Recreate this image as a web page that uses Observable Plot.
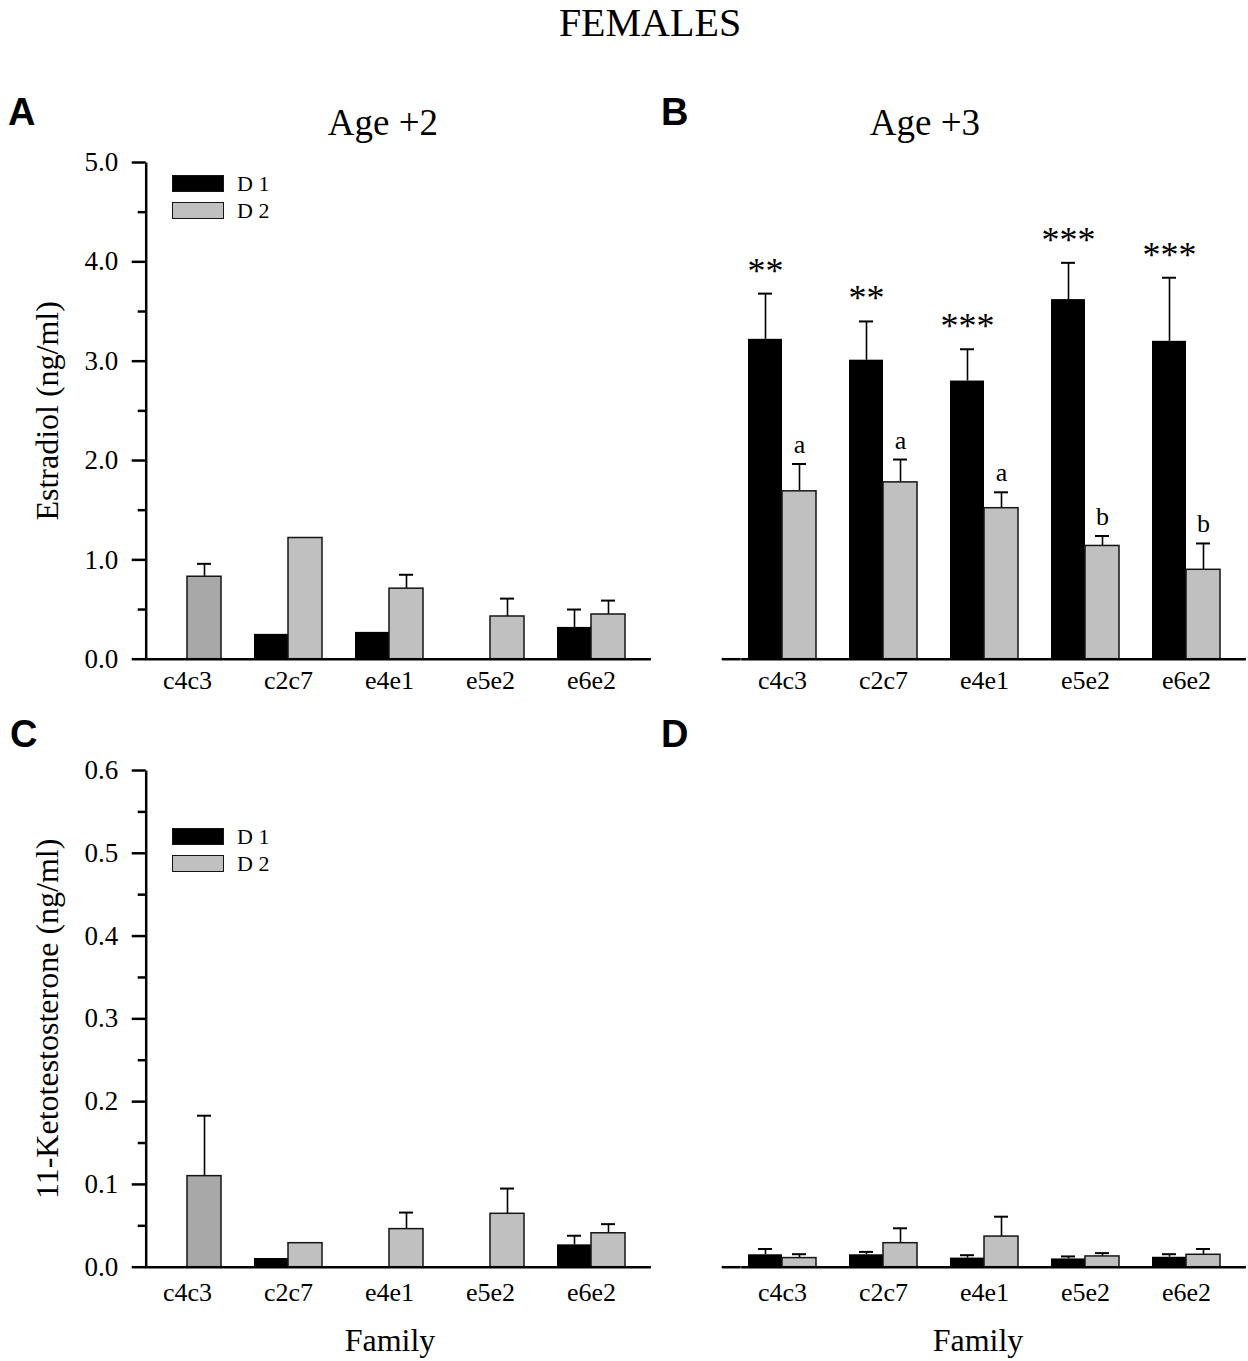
<!DOCTYPE html>
<html>
<head>
<meta charset="utf-8">
<script src="https://cdn.jsdelivr.net/npm/d3@7"></script>
<script src="https://cdn.jsdelivr.net/npm/@observablehq/plot@0.6"></script>
<style>
  html, body { margin: 0; padding: 0; background: white; }
  #page { position: relative; width: 1248px; height: 1361px; overflow: hidden; background: white; font-family: "Liberation Serif", "Times New Roman", serif; color: black; }
  .abs { position: absolute; white-space: nowrap; }
  .panel { position: absolute; width: 652px; height: 570px; }
  .panel svg { background: none !important; overflow: visible; }
  .sw { position: absolute; box-sizing: border-box; }
</style>
</head>
<body>
<div id="page"></div>
<script>
// ---------------- DATA ----------------
const families = ["c4c3", "c2c7", "e4e1", "e5e2", "e6e2"];
const seriesNames = ["D 1", "D 2"];

// Panel A: Age +2, Estradiol (ng/ml)
const aD1 = [null, 0.25, 0.27, null, 0.32];
const aD1Err = [null, null, null, null, 0.50];
const aD2 = [0.83, 1.22, 0.71, 0.43, 0.45];
const aD2Err = [0.96, null, 0.85, 0.61, 0.59];

// Panel B: Age +3, Estradiol (ng/ml)
const bD1 = [3.22, 3.01, 2.80, 3.62, 3.20];
const bD1Err = [3.68, 3.40, 3.12, 3.99, 3.84];
const bD2 = [1.69, 1.78, 1.52, 1.14, 0.90];
const bD2Err = [1.965, 2.01, 1.68, 1.24, 1.165];
const bD1Sig = ["**", "**", "***", "***", "***"];
const bD2Sig = ["a", "a", "a", "b", "b"];

// Panel C: Age +2, 11-Ketotestosterone (ng/ml)
const cD1 = [null, 0.0105, null, null, 0.027];
const cD1Err = [null, null, null, null, 0.038];
const cD2 = [0.110, 0.029, 0.046, 0.0645, 0.041];
const cD2Err = [0.183, null, 0.066, 0.095, 0.052];

// Panel D: Age +3, 11-Ketotestosterone (ng/ml)
const dD1 = [0.015, 0.015, 0.011, 0.010, 0.012];
const dD1Err = [0.022, 0.0185, 0.0145, 0.013, 0.0157];
const dD2 = [0.011, 0.029, 0.037, 0.013, 0.015];
const dD2Err = [0.0157, 0.047, 0.061, 0.017, 0.022];

// Axis ticks
const estradiolTicks = [0, 1, 2, 3, 4, 5];
const estradiolMinor = [0.5, 1.5, 2.5, 3.5, 4.5];
const ketoTicks = [0, 0.1, 0.2, 0.3, 0.4, 0.5, 0.6];
const ketoMinor = [0.05, 0.15, 0.25, 0.35, 0.45, 0.55];

const mainTitle = "FEMALES";
const panelLetters = ["A", "B", "C", "D"];
const ageTitles = ["Age +2", "Age +3"];
const yLabels = ["Estradiol (ng/ml)", "11-Ketotestosterone (ng/ml)"];
const xLabel = "Family";

// ---------------- LAYOUT ----------------
const SERIF = "Liberation Serif";
const GRAY = "#c0c0c0";
const DARKGRAY = "#a8a8a8";
const page = document.getElementById("page");

function rows(vals, errs, sigs) {
  return families.map((f, i) => ({family: f, value: vals[i], err: errs[i], sig: sigs ? sigs[i] : null}))
    .filter(d => d.value != null);
}

function panel(o) {
  const W = 652, H = 570, mL = 145.7, mR = 1.6, mT = 22, mB = 51.3;
  const fw = W - mL - mR, fh = H - mT - mB;
  const STEP = 101.7, BAR = 34, CAP = 14;
  const first = mL + 5.3;
  const p = 1 - 2 * BAR / STEP;
  const r0 = first - STEP * p;
  const r1 = r0 + STEP * (families.length + p);
  const fmt = d3.format(".1f");

  const r1s = rows(o.d1, o.d1e, o.s1);
  const r2s = rows(o.d2, o.d2e, o.s2);
  const e1 = r1s.filter(d => d.err != null);
  const e2 = r2s.filter(d => d.err != null);

  const marks = [
    Plot.ruleX(e1, {x: "family", y1: "value", y2: "err", dx: -BAR / 2, stroke: "black", strokeWidth: 1.6}),
    Plot.ruleX(e2, {x: "family", y1: "value", y2: "err", dx: BAR / 2, stroke: "black", strokeWidth: 1.6}),
    Plot.tickY(e1, {x: "family", y: "err", insetLeft: BAR / 2 - CAP / 2, insetRight: 2 * BAR - BAR / 2 - CAP / 2, stroke: "black", strokeWidth: 2}),
    Plot.tickY(e2, {x: "family", y: "err", insetLeft: BAR + BAR / 2 - CAP / 2, insetRight: BAR / 2 - CAP / 2, stroke: "black", strokeWidth: 2}),
    Plot.barY(r1s, {x: "family", y: "value", fill: "black", insetRight: BAR}),
    Plot.barY(r2s, {x: "family", y: "value", insetLeft: BAR,
      fill: d => (o.darkFirst && d.family === families[0]) ? DARKGRAY : GRAY,
      stroke: "#151515", strokeWidth: 1.5}),
    Plot.frame({stroke: "black", strokeWidth: 2.5,
      strokeDasharray: o.showY ? `0 ${fw + fh} ${fw + fh}` : `0 ${fw + fh} ${fw} ${fh + 20}`}),
    // category labels under the baseline
    Plot.text(families, {x: d => d, text: d => d, frameAnchor: "bottom", lineAnchor: "top", dy: o.labelPad,
      fontSize: 26, fontFamily: SERIF, fill: "black"})
  ];
  if (o.s1) {
    marks.push(Plot.text(e1, {x: "family", y: "err", text: "sig", dx: -BAR / 2, dy: -11, lineAnchor: "bottom", fontSize: 36, fontFamily: SERIF, fill: "black"}));
  }
  if (o.s2) {
    marks.push(Plot.text(e2, {x: "family", y: "err", text: "sig", dx: BAR / 2, dy: -11, lineAnchor: "bottom", fontSize: 26, fontFamily: SERIF, fill: "black"}));
  }
  if (o.showY) {
    marks.push(
      Plot.axisY({ticks: o.major, tickSize: 14, text: null, tickFormat: () => "", strokeWidth: 2.5, label: null}),
      Plot.axisY({ticks: o.minor, tickSize: 8, text: null, tickFormat: () => "", strokeWidth: 2.5, label: null}),
      Plot.text(o.major, {y: d => d, text: d => fmt(d), frameAnchor: "left", dx: -28, textAnchor: "end", lineAnchor: "middle",
        fontSize: 27, fontFamily: SERIF, fill: "black"}),
      Plot.text([o.ylabel], {text: d => d, frameAnchor: "left", rotate: -90, dx: 57 - mL, textAnchor: "middle", lineAnchor: "bottom", fontSize: 32, fontFamily: SERIF, fill: "black"})
    );
  } else {
    marks.push(Plot.axisY({ticks: [0], tickSize: 19, text: null, tickFormat: () => "", strokeWidth: 2.5, label: null}));
  }

  const svg = Plot.plot({
    width: W, height: H,
    marginLeft: mL, marginRight: mR, marginTop: mT, marginBottom: mB,
    style: {background: "none", fontFamily: SERIF, color: "black", overflow: "visible"},
    x: {type: "band", domain: families, range: [r0, r1], paddingInner: p, paddingOuter: p, axis: null},
    y: {domain: o.yDomain, axis: null},
    marks
  });
  const div = document.createElement("div");
  div.className = "panel";
  div.style.left = o.left + "px";
  div.style.top = o.top + "px";
  div.appendChild(svg);
  page.appendChild(div);
}

panel({left: 0, top: 140, d1: aD1, d1e: aD1Err, d2: aD2, d2e: aD2Err, yDomain: [0, 5], major: estradiolTicks, minor: estradiolMinor, showY: true, ylabel: yLabels[0], darkFirst: true, labelPad: 11});
panel({left: 595.3, top: 140, d1: bD1, d1e: bD1Err, d2: bD2, d2e: bD2Err, s1: bD1Sig, s2: bD2Sig, yDomain: [0, 5], showY: false, labelPad: 11});
panel({left: 0, top: 748, d1: cD1, d1e: cD1Err, d2: cD2, d2e: cD2Err, yDomain: [0, 0.6], major: ketoTicks, minor: ketoMinor, showY: true, ylabel: yLabels[1], darkFirst: true, labelPad: 15});
panel({left: 595.3, top: 748, d1: dD1, d1e: dD1Err, d2: dD2, d2e: dD2Err, yDomain: [0, 0.6], showY: false, labelPad: 15});

// ---------------- TEXT OVERLAYS ----------------
// Places a text so that its baseline sits at `baseline` (Liberation metrics).
function textAt(str, x, baseline, size, opts = {}) {
  const el = document.createElement("div");
  el.className = "abs";
  el.textContent = str;
  const sans = opts.sans;
  el.style.fontFamily = sans ? '"Liberation Sans", Arial, sans-serif' : '"Liberation Serif", "Times New Roman", serif';
  el.style.fontWeight = opts.bold ? "bold" : "normal";
  el.style.fontSize = size + "px";
  const L = opts.lineHeight || size;
  el.style.lineHeight = L + "px";
  const asc = sans ? 0.905 : 0.891, desc = sans ? 0.212 : 0.216;
  el.style.top = (baseline - ((L - (asc + desc) * size) / 2 + asc * size)) + "px";
  if (opts.center) {
    el.style.left = (x - 300) + "px";
    el.style.width = "600px";
    el.style.textAlign = "center";
  } else {
    el.style.left = x + "px";
  }
  page.appendChild(el);
}

textAt(mainTitle, 650, 36, 40, {center: true, lineHeight: 44});
textAt(panelLetters[0], 8, 125, 38, {sans: true, bold: true});
textAt(panelLetters[1], 661, 125, 38, {sans: true, bold: true});
textAt(panelLetters[2], 10, 747, 38, {sans: true, bold: true});
textAt(panelLetters[3], 661, 747, 38, {sans: true, bold: true});
textAt(ageTitles[0], 383, 135, 37, {center: true});
textAt(ageTitles[1], 925, 135, 37, {center: true});
textAt(xLabel, 390, 1351, 32, {center: true});
textAt(xLabel, 978, 1351, 32, {center: true});

// Legends (panels A and C)
function legend(top) {
  const colors = ["black", GRAY];
  seriesNames.forEach((name, i) => {
    const sw = document.createElement("div");
    sw.className = "sw";
    sw.style.left = "172px";
    sw.style.top = (top + i * 27) + "px";
    sw.style.width = "52px";
    sw.style.height = "17px";
    sw.style.background = colors[i];
    sw.style.border = "1.5px solid #151515";
    page.appendChild(sw);
    textAt(name, 237, top + 16 + i * 27, 22);
  });
}
legend(175);
legend(828);
</script>
</body>
</html>
